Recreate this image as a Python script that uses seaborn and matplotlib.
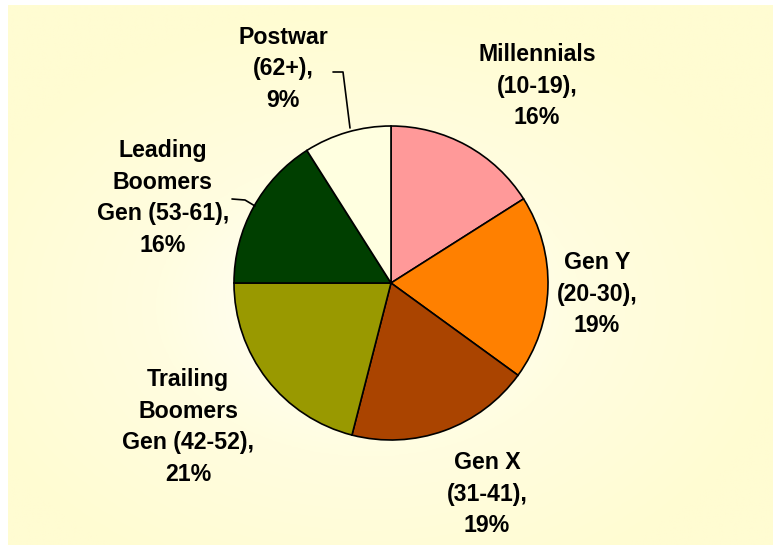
import numpy as np
import matplotlib
matplotlib.use("Agg")
import matplotlib.pyplot as plt
import seaborn as sns
from matplotlib.colors import LinearSegmentedColormap
from matplotlib.patches import Rectangle

# ---- data ----
labels = ["Millennials\n(10-19),\n16%", "Gen Y\n(20-30),\n19%", "Gen X\n(31-41),\n19%",
          "Trailing\nBoomers\nGen (42-52),\n21%", "Leading\nBoomers\nGen (53-61),\n16%",
          "Postwar\n(62+),\n9%"]
values = [16, 19, 19, 21, 16, 9]
colors = ["#FF9999", "#FF8000", "#AA4400", "#999900", "#003F00", "#FFFFE0"]

# ---- layout (pixel-like coordinates, y up) ----
W, H = 773, 545
center = (391, H - 283)
radius = 157
label_pos = [(537, H - 86), (597, H - 294), (487, H - 494),
             (188, H - 427), (163, H - 198), (283, H - 69)]

sns.set_theme(style="white")
plt.rcParams["font.family"] = ["Liberation Sans", "DejaVu Sans"]

fig = plt.figure(figsize=(W / 100, H / 100), dpi=100)
fig.patch.set_facecolor("#FFFCD2")
# white margins at top and left
fig.patches.append(Rectangle((0, 0), 8 / W, 1, transform=fig.transFigure,
                             facecolor="white", edgecolor="none", zorder=0))
fig.patches.append(Rectangle((0, 1 - 5 / H), 1, 5 / H, transform=fig.transFigure,
                             facecolor="white", edgecolor="none", zorder=0))
ax = fig.add_axes([0, 0, 1, 1])
ax.patch.set_alpha(0)

# background radial gradient
yy, xx = np.mgrid[0:200, 0:300]
cx, cy = 140, 110
d = np.sqrt(((xx - cx) / 300) ** 2 + ((yy - cy) / 200) ** 2)
d = np.clip(d / 0.55, 0, 1)
cmap = LinearSegmentedColormap.from_list("bg", ["#FFFFFF", "#FFFDE0", "#FFFCD2"])
ax.imshow(d, cmap=cmap, extent=(8, W + 5, -5, H - 5), origin="upper", zorder=0,
          aspect="auto", interpolation="bilinear")

ax.pie(values, colors=colors, startangle=90, counterclock=False, center=center,
       radius=radius, wedgeprops=dict(edgecolor="black", linewidth=1.2), frame=False)
ax.set_xlim(0, W)
ax.set_ylim(0, H)
ax.set_aspect("equal")
ax.axis("off")

for lab, (x, y) in zip(labels, label_pos):
    ax.text(x, y, lab, ha="center", va="center", fontsize=16.7, fontweight="bold",
            color="black", linespacing=1.47, zorder=5)

# leader lines
ax.plot([333, 343, 350], [H - 72, H - 72, H - 128], color="black", lw=1.2, zorder=4)
ax.plot([232, 245, 255], [H - 199, H - 200, H - 206], color="black", lw=1.2, zorder=4)

fig.savefig("out.png", dpi=100, facecolor=fig.get_facecolor())
